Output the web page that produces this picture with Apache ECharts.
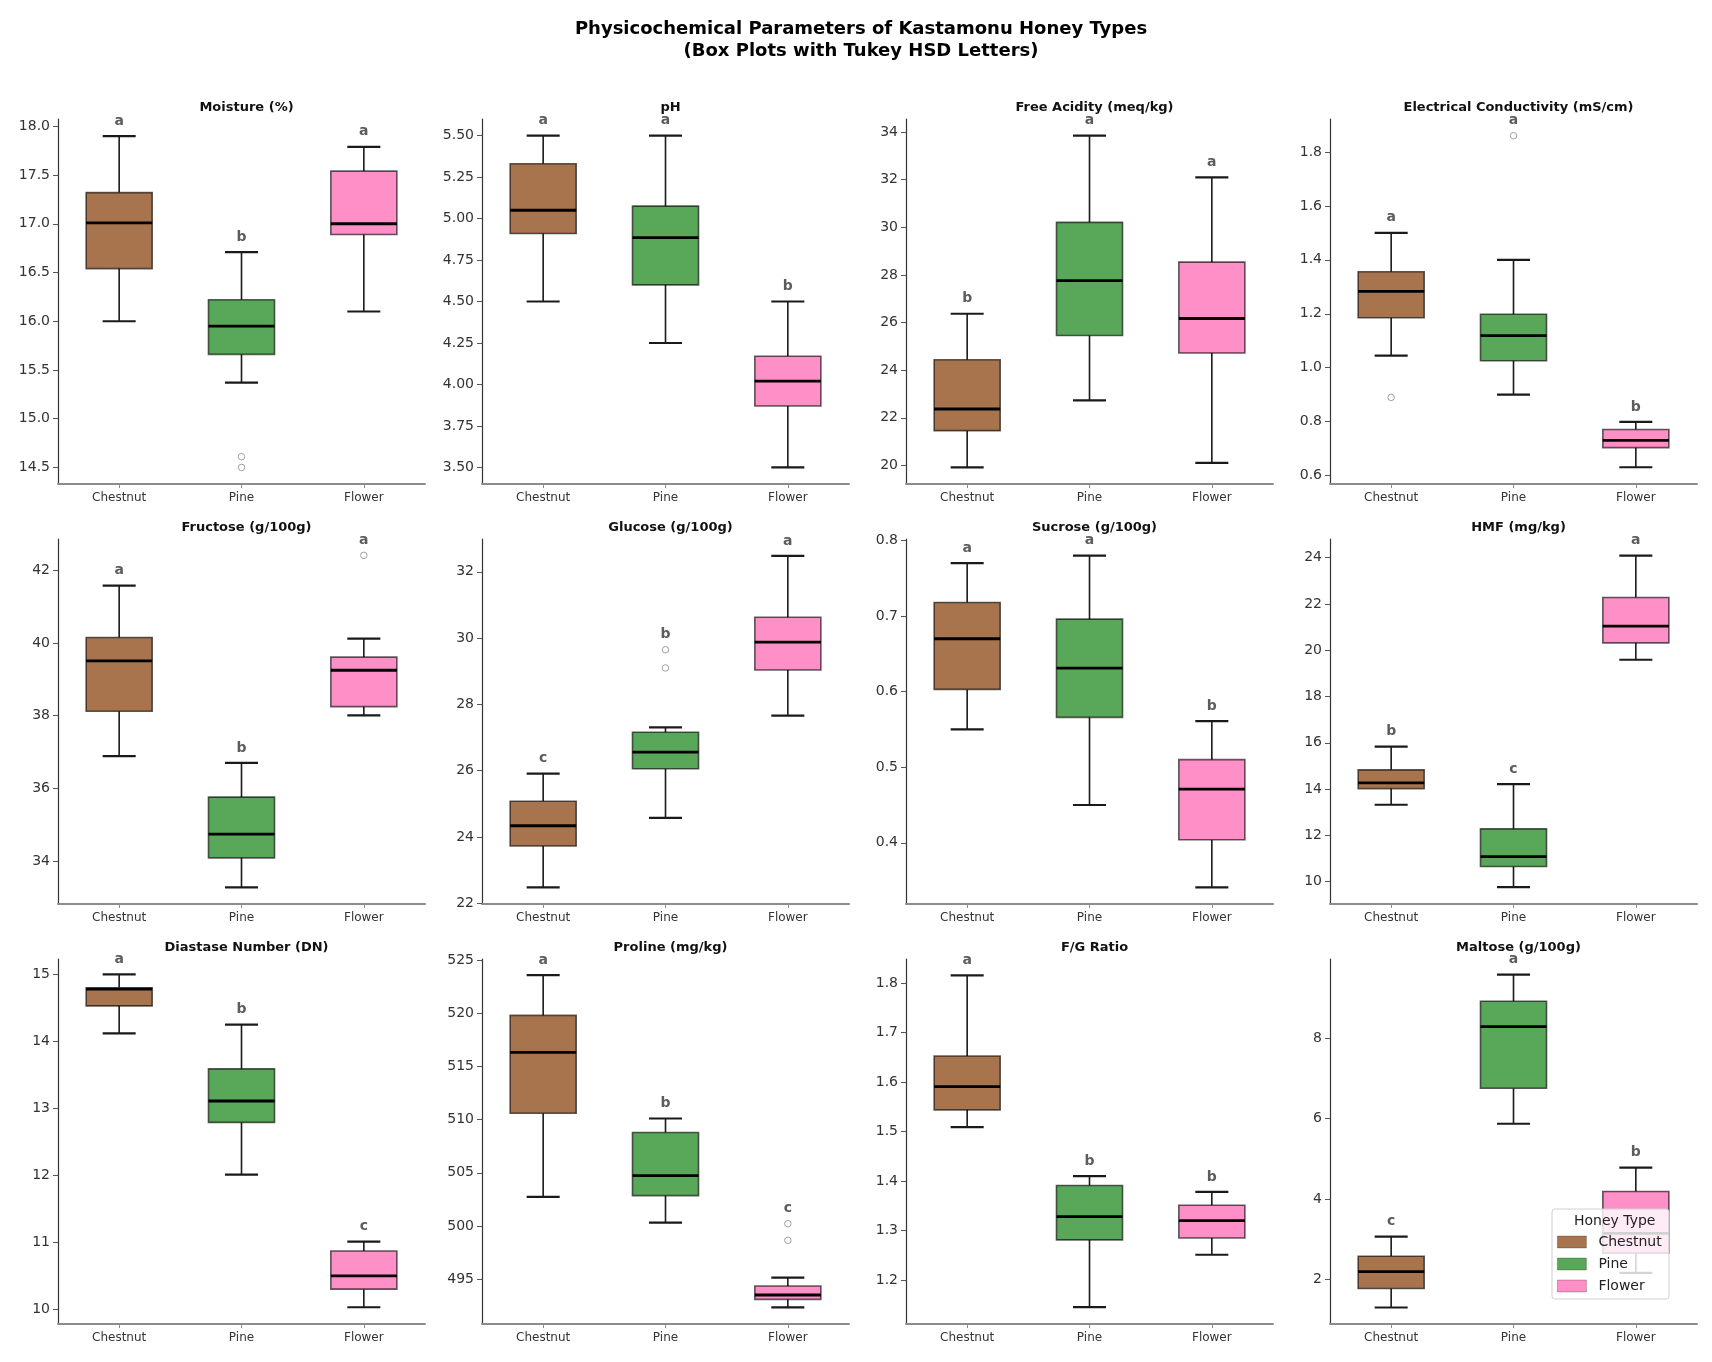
<!DOCTYPE html>
<html>
<head>
<meta charset="utf-8">
<script src="https://cdn.jsdelivr.net/npm/echarts@6/dist/echarts.min.js"></script>
<style>
  html, body { margin: 0; padding: 0; background: #ffffff; }
  #chart { width: 1712px; height: 1362px; }
</style>
</head>
<body>
<div id="chart"></div>
<script>
// ---------------- DATA ----------------
const honeyTypes = ['Chestnut', 'Pine', 'Flower'];

const panelTitles = [
  'Moisture (%)', 'pH', 'Free Acidity (meq/kg)', 'Electrical Conductivity (mS/cm)',
  'Fructose (g/100g)', 'Glucose (g/100g)', 'Sucrose (g/100g)', 'HMF (mg/kg)',
  'Diastase Number (DN)', 'Proline (mg/kg)', 'F/G Ratio', 'Maltose (g/100g)'
];

// box stats per honey type: [lower whisker, Q1, median, Q3, upper whisker]
const moistureStats = [[16.00, 16.54, 17.01, 17.32, 17.90], [15.37, 15.66, 15.95, 16.22, 16.71], [16.10, 16.89, 17.00, 17.54, 17.79]];
const phStats = [[4.50, 4.91, 5.05, 5.33, 5.50], [4.25, 4.60, 4.885, 5.075, 5.50], [3.50, 3.87, 4.02, 4.17, 4.50]];
const freeAcidityStats = [[19.92, 21.46, 22.37, 24.44, 26.37], [22.73, 25.46, 27.76, 30.21, 33.85], [20.11, 24.72, 26.17, 28.54, 32.10]];
const ecStats = [[1.045, 1.185, 1.283, 1.356, 1.50], [0.90, 1.026, 1.119, 1.198, 1.40], [0.631, 0.704, 0.731, 0.771, 0.799]];
const fructoseStats = [[36.89, 38.12, 39.51, 40.15, 41.58], [33.28, 34.09, 34.74, 35.76, 36.70], [38.01, 38.25, 39.25, 39.61, 40.12]];
const glucoseStats = [[22.48, 23.73, 24.34, 25.08, 25.91], [24.58, 26.06, 26.56, 27.16, 27.31], [27.66, 29.04, 29.88, 30.63, 32.48]];
const sucroseStats = [[0.550, 0.603, 0.670, 0.718, 0.770], [0.450, 0.566, 0.631, 0.696, 0.780], [0.341, 0.404, 0.471, 0.510, 0.561]];
const hmfStats = [[13.32, 14.02, 14.27, 14.83, 15.83], [9.76, 10.65, 11.08, 12.28, 14.21], [19.59, 20.32, 21.04, 22.28, 24.09]];
const diastaseStats = [[14.12, 14.53, 14.78, 14.80, 15.00], [12.01, 12.79, 13.11, 13.59, 14.25], [10.03, 10.30, 10.50, 10.87, 11.01]];
const prolineStats = [[502.73, 510.61, 516.33, 519.82, 523.62], [500.31, 502.85, 504.74, 508.79, 510.11], [492.33, 493.08, 493.49, 494.34, 495.12]];
const fgStats = [[1.509, 1.544, 1.591, 1.653, 1.816], [1.145, 1.281, 1.328, 1.391, 1.410], [1.251, 1.285, 1.320, 1.351, 1.378]];
const maltoseStats = [[1.31, 1.78, 2.20, 2.58, 3.07], [5.87, 6.75, 8.28, 8.91, 9.57], [2.17, 2.66, 3.15, 4.19, 4.78]];

// outliers per honey type
const moistureOutliers = [[], [14.61, 14.50], []];
const phOutliers = [[], [], []];
const freeAcidityOutliers = [[], [], []];
const ecOutliers = [[0.89], [1.86], []];
const fructoseOutliers = [[], [], [42.41]];
const glucoseOutliers = [[], [29.65, 29.10], []];
const sucroseOutliers = [[], [], []];
const hmfOutliers = [[], [], []];
const diastaseOutliers = [[], [], []];
const prolineOutliers = [[], [], [500.21, 498.64]];
const fgOutliers = [[], [], []];
const maltoseOutliers = [[], [], []];

// Tukey HSD letters
const moistureLetters = ['a', 'b', 'a'];
const phLetters = ['a', 'a', 'b'];
const freeAcidityLetters = ['b', 'a', 'a'];
const ecLetters = ['a', 'a', 'b'];
const fructoseLetters = ['a', 'b', 'a'];
const glucoseLetters = ['c', 'b', 'a'];
const sucroseLetters = ['a', 'a', 'b'];
const hmfLetters = ['b', 'c', 'a'];
const diastaseLetters = ['a', 'b', 'c'];
const prolineLetters = ['a', 'b', 'c'];
const fgLetters = ['a', 'b', 'b'];
const maltoseLetters = ['c', 'a', 'b'];

// y tick labels
const moistureTicks = ['14.5', '15.0', '15.5', '16.0', '16.5', '17.0', '17.5', '18.0'];
const phTicks = ['3.50', '3.75', '4.00', '4.25', '4.50', '4.75', '5.00', '5.25', '5.50'];
const freeAcidityTicks = ['20', '22', '24', '26', '28', '30', '32', '34'];
const ecTicks = ['0.6', '0.8', '1.0', '1.2', '1.4', '1.6', '1.8'];
const fructoseTicks = ['34', '36', '38', '40', '42'];
const glucoseTicks = ['22', '24', '26', '28', '30', '32'];
const sucroseTicks = ['0.4', '0.5', '0.6', '0.7', '0.8'];
const hmfTicks = ['10', '12', '14', '16', '18', '20', '22', '24'];
const diastaseTicks = ['10', '11', '12', '13', '14', '15'];
const prolineTicks = ['495', '500', '505', '510', '515', '520', '525'];
const fgTicks = ['1.2', '1.3', '1.4', '1.5', '1.6', '1.7', '1.8'];
const maltoseTicks = ['2', '4', '6', '8'];

// y axis limits
const moistureRange = [14.33, 18.075];
const phRange = [3.40, 5.60];
const freeAcidityRange = [19.22, 34.55];
const ecRange = [0.569, 1.922];
const fructoseRange = [32.82, 42.86];
const glucoseRange = [21.98, 32.99];
const sucroseRange = [0.319, 0.802];
const hmfRange = [9.03, 24.81];
const diastaseRange = [9.78, 15.23];
const prolineRange = [490.76, 525.13];
const fgRange = [1.111, 1.849];
const maltoseRange = [0.90, 9.96];

// ---------------- STYLE / LAYOUT ----------------
const FONT = 'DejaVu Sans';
const honeyColors = ['#A8744E', '#59A859', '#FF8FC7'];
const colLeft = [58, 482, 906, 1330];
const rowTop = [119, 539, 959];
const gridW = 367, gridH = 365;

const panelStats = [moistureStats, phStats, freeAcidityStats, ecStats, fructoseStats, glucoseStats, sucroseStats, hmfStats, diastaseStats, prolineStats, fgStats, maltoseStats];
const panelOutliers = [moistureOutliers, phOutliers, freeAcidityOutliers, ecOutliers, fructoseOutliers, glucoseOutliers, sucroseOutliers, hmfOutliers, diastaseOutliers, prolineOutliers, fgOutliers, maltoseOutliers];
const panelLetters = [moistureLetters, phLetters, freeAcidityLetters, ecLetters, fructoseLetters, glucoseLetters, sucroseLetters, hmfLetters, diastaseLetters, prolineLetters, fgLetters, maltoseLetters];
const panelTicks = [moistureTicks, phTicks, freeAcidityTicks, ecTicks, fructoseTicks, glucoseTicks, sucroseTicks, hmfTicks, diastaseTicks, prolineTicks, fgTicks, maltoseTicks];
const panelRanges = [moistureRange, phRange, freeAcidityRange, ecRange, fructoseRange, glucoseRange, sucroseRange, hmfRange, diastaseRange, prolineRange, fgRange, maltoseRange];

function renderBox(params, api) {
  const x = api.value(0);
  const pts = [1, 2, 3, 4, 5].map(k => api.coord([x, api.value(k)]));
  const cx = pts[0][0];
  const band = api.size([1, 0])[0];
  const bw = band * 0.54;
  const cw = bw * 0.5;
  const yMin = pts[0][1], yQ1 = pts[1][1], yMed = pts[2][1], yQ3 = pts[3][1], yMax = pts[4][1];
  const color = api.visual('color');
  const wStyle = { stroke: '#1a1a1a', lineWidth: 1.6 };
  const cStyle = { stroke: '#1a1a1a', lineWidth: 2.2 };
  return {
    type: 'group',
    children: [
      { type: 'line', shape: { x1: cx, y1: yQ1, x2: cx, y2: yMin }, style: wStyle },
      { type: 'line', shape: { x1: cx, y1: yQ3, x2: cx, y2: yMax }, style: wStyle },
      { type: 'line', shape: { x1: cx - cw / 2, y1: yMin, x2: cx + cw / 2, y2: yMin }, style: cStyle },
      { type: 'line', shape: { x1: cx - cw / 2, y1: yMax, x2: cx + cw / 2, y2: yMax }, style: cStyle },
      { type: 'rect', shape: { x: cx - bw / 2, y: yQ3, width: bw, height: yQ1 - yQ3 },
        style: { fill: color, stroke: 'rgba(0,0,0,0.62)', lineWidth: 1.6 } },
      { type: 'line', shape: { x1: cx - bw / 2, y1: yMed, x2: cx + bw / 2, y2: yMed },
        style: { stroke: '#000', lineWidth: 2.8 } }
    ]
  };
}

const grids = [], xAxes = [], yAxes = [], series = [], titles = [];

titles.push({
  text: 'Physicochemical Parameters of Kastamonu Honey Types\n(Box Plots with Tukey HSD Letters)',
  left: 856, top: 13, textAlign: 'center',
  textStyle: { fontFamily: FONT, fontSize: 18, fontWeight: 'bold', color: '#000', lineHeight: 22 }
});

panelTitles.forEach((name, p) => {
  const r = Math.floor(p / 4), c = p % 4;
  grids.push({ left: colLeft[c], top: rowTop[r], width: gridW, height: gridH, containLabel: false });
  titles.push({
    text: name, left: colLeft[c] + gridW / 2, top: rowTop[r] - 23, textAlign: 'center',
    textStyle: { fontFamily: FONT, fontSize: 13, fontWeight: 'bold', color: '#111' }
  });
  xAxes.push({
    type: 'category', gridIndex: p, data: honeyTypes, boundaryGap: true,
    axisLine: { show: true, lineStyle: { color: '#8c8c8c', width: 2 } },
    axisTick: { show: true, alignWithLabel: true, length: 4, lineStyle: { color: '#8c8c8c', width: 1 } },
    axisLabel: { fontFamily: FONT, fontSize: 12, color: '#333', margin: 8 },
    splitLine: { show: false }
  });
  const ticks = panelTicks[p];
  const tickVals = ticks.map(Number);
  yAxes.push({
    type: 'value', gridIndex: p, min: panelRanges[p][0], max: panelRanges[p][1],
    axisLine: { show: true, lineStyle: { color: '#333', width: 1.2 } },
    axisTick: { show: true, length: 5, lineStyle: { color: '#555', width: 1 }, customValues: tickVals },
    axisLabel: {
      fontFamily: FONT, fontSize: 14, color: '#333', margin: 8, customValues: tickVals,
      showMinLabel: true, showMaxLabel: true,
      formatter: function (v) {
        let best = 0, bd = Infinity;
        tickVals.forEach((t, i) => { const d = Math.abs(t - v); if (d < bd) { bd = d; best = i; } });
        return ticks[best];
      }
    },
    splitLine: { show: false }
  });

  honeyTypes.forEach((ht, i) => {
    series.push({
      type: 'custom', name: ht, xAxisIndex: p, yAxisIndex: p,
      itemStyle: { color: honeyColors[i] },
      renderItem: renderBox,
      encode: { x: 0, y: [1, 2, 3, 4, 5] },
      data: [[i].concat(panelStats[p][i])],
      silent: true, z: 2
    });
  });

  const outPts = [];
  panelOutliers[p].forEach((arr, i) => arr.forEach(v => outPts.push([i, v])));
  series.push({
    type: 'scatter', name: 'outliers', xAxisIndex: p, yAxisIndex: p,
    symbol: 'circle', symbolSize: 6.5,
    itemStyle: { color: 'rgba(255,255,255,0)', borderColor: '#8a8a8a', borderWidth: 1 },
    data: outPts, silent: true, z: 3
  });

  const letterPts = panelLetters[p].map((L, i) => {
    const top = Math.max(panelStats[p][i][4], ...panelOutliers[p][i]);
    return [i, top, L];
  });
  series.push({
    type: 'scatter', name: 'letters', xAxisIndex: p, yAxisIndex: p,
    symbol: 'circle', symbolSize: 2,
    itemStyle: { color: 'rgba(0,0,0,0)' },
    label: {
      show: true, position: 'top', distance: 7,
      formatter: pr => pr.value[2],
      fontFamily: FONT, fontSize: 14, fontWeight: 'bold', color: '#333'
    },
    data: letterPts, silent: true, z: 4
  });
});

const chart = echarts.init(document.getElementById('chart'), null, { renderer: 'canvas' });
chart.setOption({
  backgroundColor: '#ffffff',
  animation: false,
  title: titles,
  grid: grids,
  xAxis: xAxes,
  yAxis: yAxes,
  legend: {
    data: honeyTypes,
    orient: 'vertical',
    left: 1552, top: 1209,
    padding: [26, 10, 5, 5],
    itemGap: 8,
    itemWidth: 29, itemHeight: 12,
    icon: 'rect',
    itemStyle: { borderColor: 'rgba(0,0,0,0.3)', borderWidth: 0.8 },
    textStyle: { fontFamily: FONT, fontSize: 14, color: '#222', padding: [0, 0, 0, 7] },
    selectedMode: false,
    zlevel: 1, z: 60
  },
  graphic: [
    {
      type: 'rect', zlevel: 1, z: 50, silent: true,
      shape: { x: 1552, y: 1209, width: 117, height: 90, r: 3 },
      style: { fill: 'rgba(255,255,255,0.82)', stroke: '#d0d0d0', lineWidth: 1 }
    },
    {
      type: 'text', zlevel: 1, left: 1574, top: 1214, z: 60, silent: true,
      style: { text: 'Honey Type', font: '14px "DejaVu Sans"', fill: '#222' }
    }
  ],
  series: series
});
</script>
</body>
</html>
